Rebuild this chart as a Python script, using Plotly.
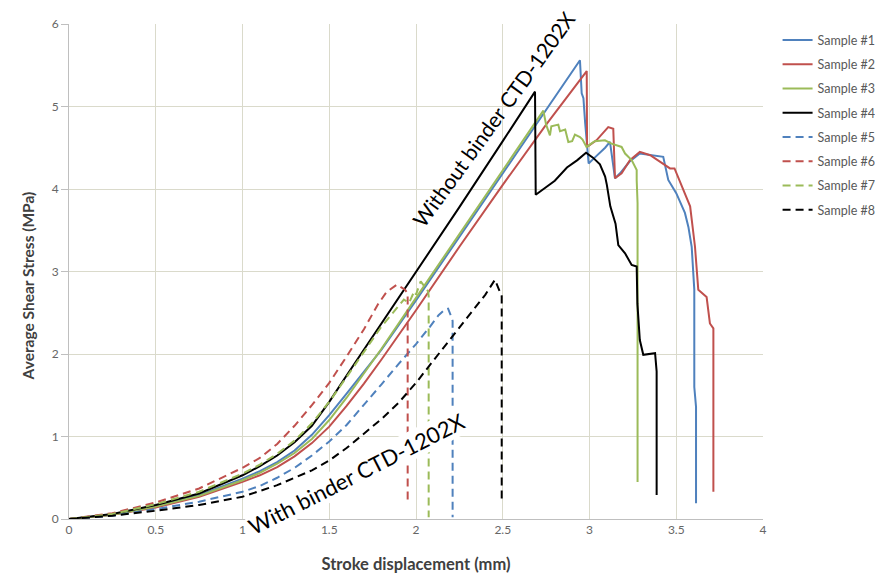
import plotly.graph_objects as go

# ---------------- data ----------------
s1_x = [0, 0.25, 0.5, 0.75, 1.0, 1.1, 1.2, 1.3, 1.4, 1.5, 1.6, 1.7, 1.8, 2.0, 2.25, 2.5, 2.75, 2.945,
        2.955, 2.965, 2.975, 2.995, 3.03, 3.06, 3.09, 3.118, 3.147, 3.176, 3.23, 3.29, 3.35, 3.40,
        3.425, 3.454, 3.50, 3.55, 3.57, 3.589, 3.604, 3.604, 3.614, 3.614]
s1_y = [0, 0.05, 0.16, 0.29, 0.49, 0.58, 0.69, 0.83, 1.02, 1.26, 1.52, 1.78, 2.05, 2.65, 3.42, 4.20, 4.97, 5.56,
        5.16, 5.10, 4.80, 4.31, 4.38, 4.44, 4.50, 4.57, 4.13, 4.19, 4.33, 4.43, 4.41, 4.39,
        4.39, 4.11, 3.95, 3.71, 3.54, 3.30, 2.78, 1.60, 1.36, 0.19]

s2_x = [0, 0.25, 0.5, 0.75, 1.0, 1.1, 1.2, 1.3, 1.4, 1.5, 1.6, 1.7, 1.8, 1.9, 2.0, 2.25, 2.5, 2.75, 2.984,
        2.986, 3.04, 3.108, 3.137, 3.147, 3.185, 3.233, 3.29, 3.35, 3.425, 3.464, 3.49, 3.52, 3.58,
        3.608, 3.627, 3.675, 3.694, 3.714, 3.714]
s2_y = [0, 0.05, 0.14, 0.27, 0.45, 0.53, 0.63, 0.76, 0.92, 1.12, 1.37, 1.64, 1.93, 2.23, 2.53, 3.30, 4.05, 4.78, 5.43,
        4.51, 4.59, 4.75, 4.73, 4.13, 4.19, 4.35, 4.45, 4.41, 4.31, 4.25, 4.25, 4.10, 3.79,
        3.30, 2.78, 2.69, 2.37, 2.31, 0.33]

s3_x = [0, 0.25, 0.5, 0.75, 1.0, 1.1, 1.2, 1.3, 1.4, 1.5, 1.6, 1.7, 1.8, 2.0, 2.25, 2.5, 2.734, 2.75, 2.772,
        2.78, 2.82, 2.83, 2.86, 2.878, 2.90, 2.916, 2.945, 2.96, 2.983, 3.03, 3.089, 3.127, 3.185,
        3.205, 3.243, 3.272, 3.272, 3.277, 3.277]
s3_y = [0, 0.05, 0.15, 0.28, 0.47, 0.56, 0.67, 0.80, 0.97, 1.20, 1.47, 1.76, 2.06, 2.68, 3.45, 4.22, 4.95, 4.78, 4.65,
        4.76, 4.78, 4.70, 4.72, 4.57, 4.58, 4.66, 4.63, 4.60, 4.51, 4.58, 4.59, 4.55, 4.51,
        4.43, 4.35, 4.23, 4.11, 3.83, 0.45]

s4_x = [0, 0.25, 0.5, 0.75, 1.0, 1.1, 1.2, 1.3, 1.4, 1.5, 1.6, 2.0, 2.25, 2.5, 2.686, 2.69, 2.75, 2.8, 2.87,
        2.93, 2.98, 3.02, 3.06, 3.09, 3.10, 3.12, 3.15, 3.166, 3.205, 3.243, 3.272, 3.276, 3.29,
        3.31, 3.378, 3.387, 3.387]
s4_y = [0, 0.06, 0.17, 0.31, 0.53, 0.64, 0.77, 0.93, 1.13, 1.42, 1.74, 2.99, 3.78, 4.58, 5.18, 3.93, 4.02, 4.10, 4.26,
        4.35, 4.44, 4.38, 4.30, 4.15, 4.05, 3.79, 3.58, 3.32, 3.22, 3.08, 3.06, 2.61, 2.17,
        1.99, 2.01, 1.79, 0.29]

s5_x = [0, 0.25, 0.5, 0.75, 1.0, 1.1, 1.2, 1.3, 1.4, 1.5, 1.6, 1.7, 1.8, 1.9, 2.0, 2.08, 2.13, 2.167,
        2.185, 2.2, 2.211, 2.211]
s5_y = [0, 0.04, 0.12, 0.21, 0.33, 0.40, 0.50, 0.62, 0.77, 0.94, 1.14, 1.38, 1.63, 1.88, 2.12, 2.33, 2.47, 2.54,
        2.55, 2.47, 2.40, 0.02]

s6_x = [0, 0.25, 0.5, 0.75, 1.0, 1.1, 1.2, 1.3, 1.4, 1.5, 1.6, 1.7, 1.78, 1.83, 1.889, 1.937, 1.952, 1.952]
s6_y = [0, 0.07, 0.20, 0.37, 0.62, 0.74, 0.91, 1.13, 1.38, 1.65, 1.97, 2.30, 2.60, 2.75, 2.84, 2.78, 2.73, 0.23]

s7_x = [0, 0.25, 0.5, 0.75, 1.0, 1.1, 1.2, 1.3, 1.4, 1.5, 1.6, 1.7, 1.8, 1.93, 1.96, 1.99, 2.0, 2.027,
        2.05, 2.07, 2.073, 2.073]
s7_y = [0, 0.06, 0.18, 0.33, 0.55, 0.66, 0.79, 0.95, 1.16, 1.42, 1.72, 2.02, 2.33, 2.66, 2.62, 2.76, 2.72, 2.88,
        2.82, 2.76, 2.70, 0.02]

s8_x = [0, 0.25, 0.5, 0.75, 1.0, 1.2, 1.4, 1.5, 1.6, 1.7, 1.8, 1.9, 2.0, 2.1, 2.2, 2.3, 2.4, 2.455,
        2.484, 2.494, 2.494]
s8_y = [0, 0.04, 0.10, 0.17, 0.27, 0.41, 0.59, 0.71, 0.86, 1.03, 1.21, 1.41, 1.65, 1.92, 2.19, 2.46, 2.72, 2.90,
        2.76, 2.70, 0.20]

names = ["Sample #1", "Sample #2", "Sample #3", "Sample #4",
         "Sample #5", "Sample #6", "Sample #7", "Sample #8"]
xs = [s1_x, s2_x, s3_x, s4_x, s5_x, s6_x, s7_x, s8_x]
ys = [s1_y, s2_y, s3_y, s4_y, s5_y, s6_y, s7_y, s8_y]

x_ticks = [0, 0.5, 1, 1.5, 2, 2.5, 3, 3.5, 4]
x_ticktext = ["0", "0.5", "1", "1.5", "2", "2.5", "3", "3.5", "4"]
y_ticks = [0, 1, 2, 3, 4, 5, 6]

x_title = "Stroke displacement (mm)"
y_title = "Average Shear Stress (MPa)"
note_without = "Without binder CTD-1202X"
note_with = "With binder CTD-1202X"

# ---------------- styles ----------------
colors = ["#4F81BD", "#C0504D", "#9BBB59", "#000000",
          "#4F81BD", "#C0504D", "#9BBB59", "#000000"]
dashes = ["solid"] * 4 + ["8px,5px"] * 4
FONT = "Lato"

fig = go.Figure()
for i in range(8):
    fig.add_trace(go.Scatter(
        x=xs[i], y=ys[i], mode="lines", name=names[i],
        legendgroup=names[i],
        line=dict(color=colors[i], width=2, dash=dashes[i]),
    ))

grid_c = "#DADACB"
# the page body adds an 8px offset, so the figure is made 8px smaller on each axis
fig.update_layout(
    width=875, height=568,
    margin=dict(l=61, r=120, t=16, b=57, autoexpand=False),
    paper_bgcolor="white", plot_bgcolor="white",
    font=dict(family=FONT, size=12, color="#595959"),
    showlegend=True,
    legend=dict(x=1.021, xanchor="left", y=0.997, yanchor="top",
                traceorder="grouped", tracegroupgap=5, itemwidth=30,
                font=dict(family=FONT, size=12.5, color="#595959"),
                bgcolor="rgba(0,0,0,0)"),
    xaxis=dict(range=[0, 4], tickvals=x_ticks, ticktext=x_ticktext,
               showgrid=True, gridcolor=grid_c, gridwidth=1,
               showline=True, linecolor="#BFBFBF", linewidth=1,
               zeroline=False, ticks="", ticklen=0, automargin=False,
               tickfont=dict(family=FONT, size=12, color="#666666"),
               title=dict(text=x_title, standoff=22,
                          font=dict(family=FONT, size=16.5, color="#404040", weight="bold"))),
    yaxis=dict(range=[0, 6], tickvals=y_ticks,
               showgrid=True, gridcolor=grid_c, gridwidth=1,
               showline=True, linecolor="#BFBFBF", linewidth=1,
               zeroline=False, ticks="outside", ticklen=7, tickcolor="#BFBFBF",
               automargin=False,
               tickfont=dict(family=FONT, size=12, color="#666666")),
)

fig.add_annotation(x=-0.059, y=0.47, xref="paper", yref="paper", text=y_title,
                   xanchor="center", yanchor="middle",
                   showarrow=False, textangle=-90,
                   font=dict(family=FONT, size=15.5, color="#404040", weight="bold"))
fig.add_annotation(x=2.449, y=4.85, xref="x", yref="y", text=note_without,
                   showarrow=False, textangle=-54,
                   font=dict(family=FONT, size=21, color="black"))
fig.add_annotation(x=1.658, y=0.55, xref="x", yref="y", text=note_with,
                   showarrow=False, textangle=-27, bgcolor="white", borderpad=0,
                   font=dict(family=FONT, size=22, color="black"))

fig.write_html("out.html")
